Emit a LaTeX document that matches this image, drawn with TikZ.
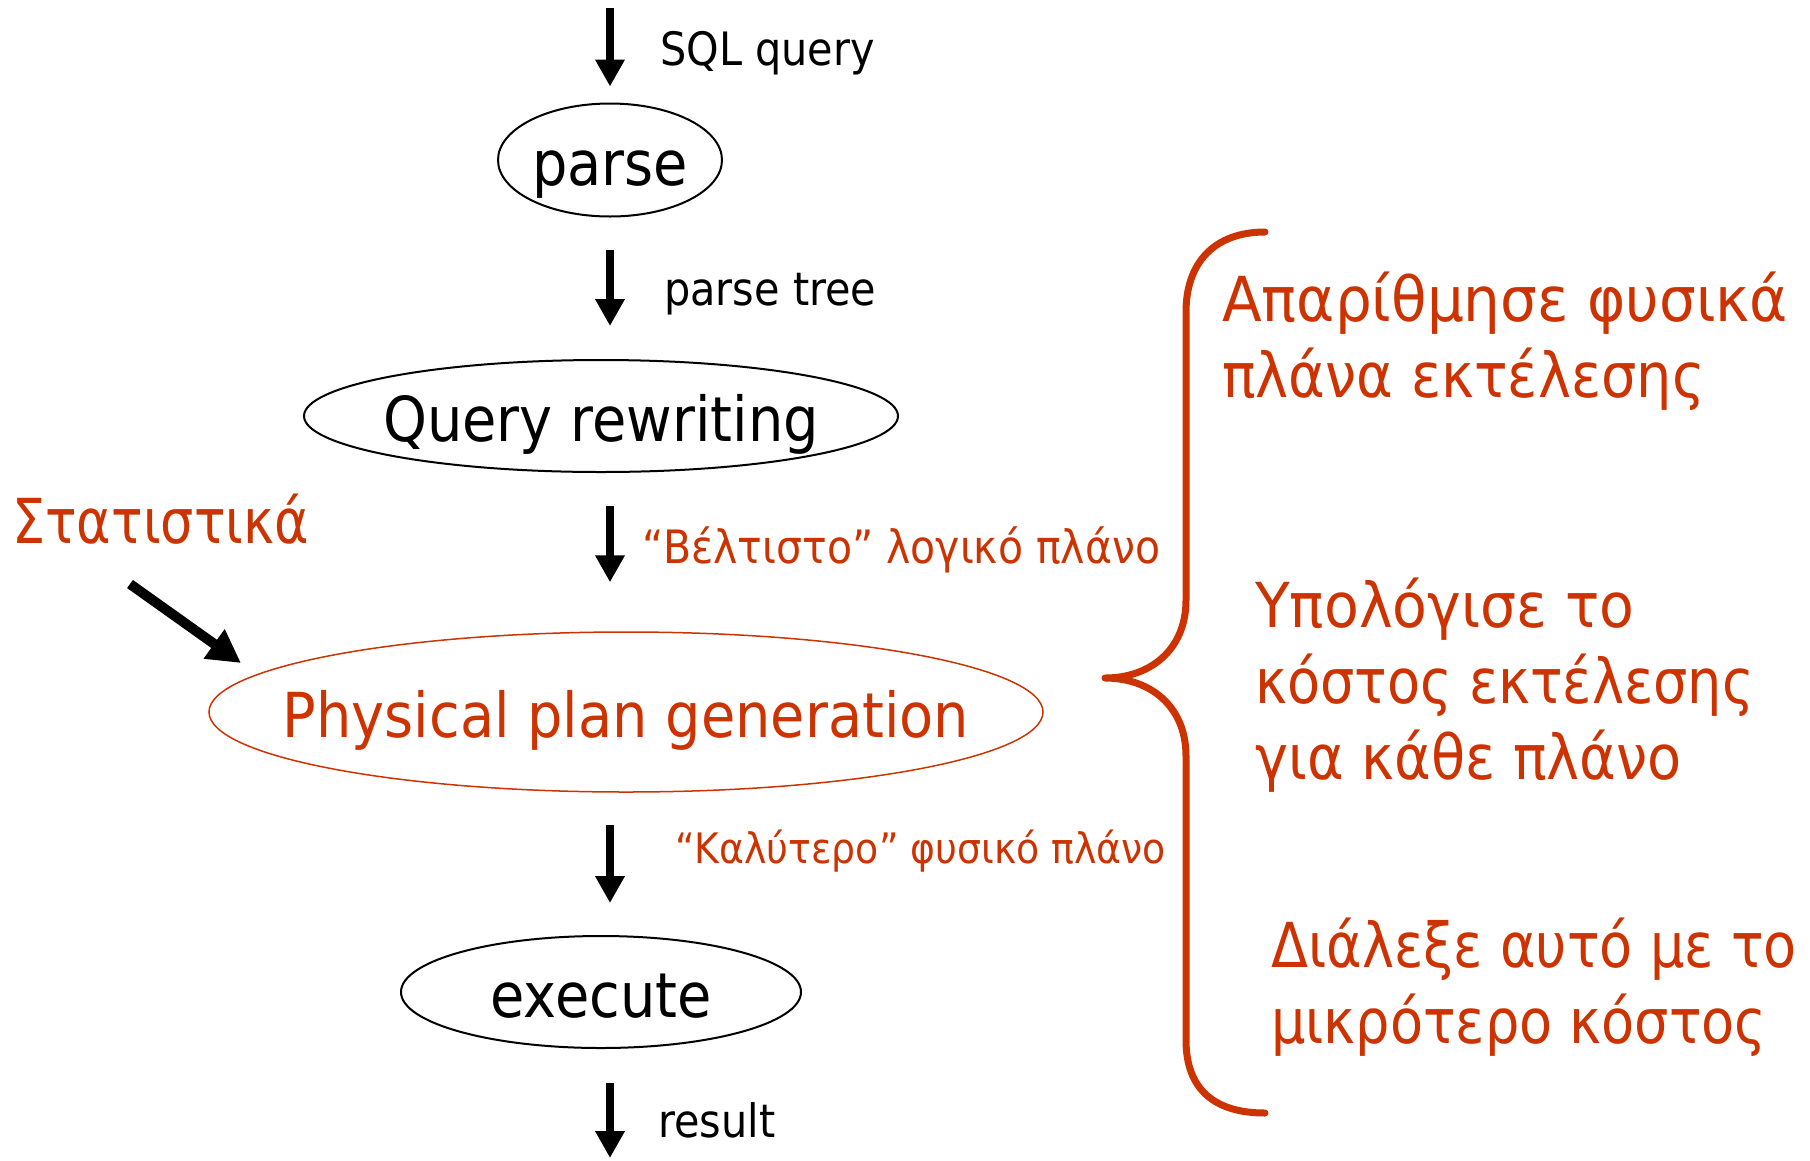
\documentclass[tikz,border=0pt]{standalone}
\usepackage{fontspec}
\setmainfont[FakeStretch=0.9]{DejaVu Sans}
\usetikzlibrary{shapes.geometric,arrows.meta}
\definecolor{accent}{RGB}{204,51,0}
\newcommand{\squeeze}[2]{\scalebox{#1}[1]{#2}}
\tikzset{
  stage/.style={ellipse, draw=black, line width=2pt, inner sep=0pt,
    text height=50pt, text depth=0pt, font=\fontsize{62}{74}\selectfont},
  flow/.style={line width=8pt, -{Triangle[length=27pt,width=28pt]}},
  small/.style={font=\fontsize{46}{55}\selectfont, anchor=base west, inner sep=0pt},
  note/.style={font=\fontsize{62}{76}\selectfont, text=accent, anchor=base west, inner sep=0pt},
  brace/.style={draw=accent, line width=7pt, line cap=round, line join=round},
}
\begin{document}
\begin{tikzpicture}[x=1pt, y=-1pt]
\useasboundingbox (0,0) rectangle (1810,1160);

% processing stages
\node[stage, minimum width=224pt, minimum height=113pt] (parse) at (610,160) {\makebox[0pt]{parse}};
\node[stage, minimum width=594pt, minimum height=112pt] (qr) at (601,416) {\makebox[0pt]{Query rewriting}};
\node[stage, draw=accent, line width=1.5pt, text=accent, minimum width=834pt, minimum height=160pt] (phys) at (626,712) {\makebox[0pt]{Physical plan generation}};
\node[stage, minimum width=400pt, minimum height=112pt] (exec) at (601,992) {\makebox[0pt]{execute}};

% flow between stages
\coordinate (in) at (610,8);
\coordinate (out) at (610,1158);
\draw[flow, shorten >=16pt] (in) -- (parse.north);
\draw[flow, shorten <=32pt, shorten >=33pt] (parse.south) -- (parse.south |- qr.north);
\draw[flow, shorten <=33pt, shorten >=49pt] (parse.south |- qr.south) -- (parse.south |- phys.north);
\draw[flow, shorten <=32pt, shorten >=32pt] (parse.south |- phys.south) -- (parse.south |- exec.north);
\draw[flow, shorten <=34pt] (parse.south |- exec.south) -- (out);

% labels of the data passed along
\node[small] (sql) at (660,65) {SQL query};
\node[small] (tree) at (664,305) {parse tree};
\node[small, text=accent] (logical) at (642,563) {\squeeze{0.99}{“Βέλτιστο” λογικό πλάνο}};
\node[small, text=accent, font=\fontsize{42}{50}\selectfont] (physical) at (675,863) {“Καλύτερο” φυσικό πλάνο};
\node[small] (res) at (658,1137) {result};

% statistics input
\node[note] (stats) at (12,543) {\squeeze{0.94}{Στατιστικά}};
\coordinate (sfrom) at (130,584);
\coordinate (sto) at (241,663);
\draw[line width=10pt, -{Triangle[length=33pt,width=34pt]}] (sfrom) -- (sto);

% brace grouping the steps of plan generation
\coordinate (btop) at (1265,232);
\coordinate (btip) at (1105,678);
\coordinate (bbot) at (1265,1113);
\draw[brace] (btop) .. controls (1215,232) and (1186,262) .. (1186,312)
  -- (1186,600) .. controls (1186,650) and (1150,678) .. (btip)
  .. controls (1150,678) and (1186,706) .. (1186,756)
  -- (1186,1040) .. controls (1186,1090) and (1215,1113) .. (bbot);

% steps
\node[note] (s1a) at (1222,321) {\squeeze{1.04}{Απαρίθμησε φυσικά}};
\node[note] (s1b) at (1222,397) {πλάνα εκτέλεσης};
\node[note] (s2a) at (1255,627) {\squeeze{1.02}{Υπολόγισε το}};
\node[note] (s2b) at (1255,703) {\squeeze{0.97}{κόστος εκτέλεσης}};
\node[note] (s2c) at (1255,779) {για κάθε πλάνο};
\node[note] (s3a) at (1271,967) {\squeeze{0.97}{Διάλεξε αυτό με το}};
\node[note] (s3b) at (1271,1043) {\squeeze{0.97}{μικρότερο κόστος}};
\end{tikzpicture}
\end{document}
